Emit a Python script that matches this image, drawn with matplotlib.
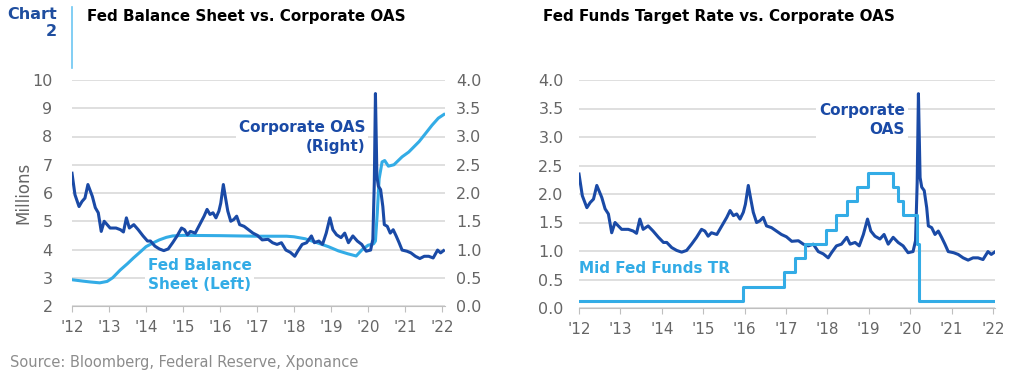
import matplotlib
matplotlib.use("Agg")
import matplotlib.pyplot as plt
import numpy as np

plt.rcParams['font.family'] = ['DejaVu Sans']

DARK = '#1a4aa6'
LIGHT = '#33ace6'
GRID = '#d9d9d9'
TICK = '#666666'

# corporate OAS (%)
oas_year = [2012.0, 2012.08, 2012.19, 2012.27, 2012.35, 2012.43, 2012.55, 2012.63, 2012.71,
            2012.79, 2012.87, 2012.95, 2013.03, 2013.19, 2013.31, 2013.39, 2013.47, 2013.55,
            2013.67, 2013.79, 2013.92, 2014.04, 2014.12, 2014.24, 2014.36, 2014.48, 2014.6,
            2014.72, 2014.84, 2014.96, 2015.04, 2015.12, 2015.2, 2015.33, 2015.45, 2015.57,
            2015.65, 2015.73, 2015.81, 2015.89, 2015.97, 2016.02, 2016.09, 2016.15, 2016.21,
            2016.29, 2016.37, 2016.45, 2016.53, 2016.65, 2016.77, 2016.89, 2017.01, 2017.14,
            2017.3, 2017.42, 2017.54, 2017.66, 2017.78, 2017.9, 2018.02, 2018.1, 2018.22,
            2018.34, 2018.47, 2018.55, 2018.67, 2018.77, 2018.87, 2018.97, 2019.05, 2019.15,
            2019.27, 2019.37, 2019.47, 2019.59, 2019.71, 2019.83, 2019.95, 2020.07, 2020.13,
            2020.17, 2020.2, 2020.24, 2020.28, 2020.34, 2020.4, 2020.44, 2020.52, 2020.6,
            2020.68, 2020.76, 2020.84, 2020.92, 2021.05, 2021.16, 2021.28, 2021.4, 2021.52,
            2021.64, 2021.76, 2021.88, 2021.96, 2022.04]
oas_val = [2.35, 1.97, 1.76, 1.85, 1.91, 2.15, 1.94, 1.74, 1.65,
           1.32, 1.5, 1.44, 1.38, 1.38, 1.35, 1.31, 1.56, 1.38,
           1.44, 1.35, 1.24, 1.15, 1.15, 1.06, 1.01, 0.98, 1.01,
           1.12, 1.24, 1.38, 1.35, 1.26, 1.32, 1.29, 1.44, 1.59,
           1.71, 1.62, 1.65, 1.56, 1.68, 1.82, 2.15, 1.91, 1.68,
           1.5, 1.53, 1.59, 1.44, 1.41, 1.35, 1.29, 1.25, 1.17,
           1.18, 1.12, 1.09, 1.12, 0.99, 0.95, 0.88, 0.97, 1.09,
           1.12, 1.24, 1.12, 1.15, 1.09, 1.29, 1.56, 1.35, 1.26,
           1.21, 1.29, 1.12, 1.24, 1.15, 1.09, 0.97, 0.99, 1.18,
           2.2, 3.76, 2.29, 2.12, 2.06, 1.76, 1.44, 1.41, 1.29,
           1.35, 1.24, 1.12, 0.99, 0.97, 0.94, 0.88, 0.84, 0.88,
           0.88, 0.85, 0.99, 0.94, 0.98]

# Fed balance sheet (left axis)
bs_year = [2012.0, 2012.3, 2012.5, 2012.75, 2012.95, 2013.1, 2013.3, 2013.5, 2013.66, 2013.85,
           2014.0, 2014.2, 2014.36, 2014.55, 2014.72, 2015.0, 2016.0, 2017.0, 2017.8, 2018.0,
           2018.3, 2018.6, 2018.93, 2019.2, 2019.45, 2019.68, 2019.83, 2020.0, 2020.15, 2020.2,
           2020.25, 2020.3, 2020.38, 2020.45, 2020.55, 2020.7, 2020.92, 2021.1, 2021.38, 2021.55,
           2021.73, 2021.9, 2022.05]
bs_val = [2.93, 2.88, 2.85, 2.82, 2.87, 3.0, 3.27, 3.5, 3.7, 3.92,
          4.1, 4.24, 4.34, 4.43, 4.48, 4.5, 4.49, 4.47, 4.47, 4.45,
          4.38, 4.25, 4.1, 3.95, 3.85, 3.77, 3.98, 4.15, 4.2, 4.3,
          5.3, 6.5, 7.1, 7.15, 6.95, 7.0, 7.28, 7.45, 7.82, 8.1,
          8.4, 8.65, 8.78]

# mid fed funds target rate (step changes)
ff_year = [2012.0, 2015.96, 2016.96, 2017.21, 2017.46, 2017.96, 2018.22, 2018.47, 2018.72,
           2018.97, 2019.58, 2019.71, 2019.83, 2020.17, 2020.21, 2022.05]
ff_val = [0.125, 0.375, 0.625, 0.875, 1.125, 1.375, 1.625, 1.875, 2.125,
          2.375, 2.125, 1.875, 1.625, 1.125, 0.125, 0.125]

year_ticks = list(range(2012, 2023))
year_labels = ["'%02d" % (y % 100) for y in year_ticks]

fig = plt.figure(figsize=(10.24, 3.8), dpi=100)

def style_x(ax, ypad):
    ax.set_xticks(year_ticks)
    ax.set_xticklabels(year_labels)
    for s in ['top', 'left', 'right']:
        ax.spines[s].set_visible(False)
    ax.spines['bottom'].set_color('#bfbfbf')
    ax.tick_params(axis='x', colors='#bfbfbf', labelcolor=TICK, labelsize=11, length=4, pad=6)
    ax.tick_params(axis='y', length=0, labelcolor=TICK, labelsize=11.5, pad=ypad)

# left chart
ax1 = fig.add_axes([72/1024, 1-306/380, 373/1024, 226/380])
ax1.plot(bs_year, bs_val, color=LIGHT, lw=2.2, zorder=3)
ax1.set_ylim(2, 10)
ax1.set_xlim(2012, 2022.08)
ax1.set_yticks(range(2, 11))
ax1.grid(axis='y', color=GRID, lw=1.2)
ax1.grid(axis='x', visible=False)
ax1.set_axisbelow(True)
style_x(ax1, 14)
ax1.set_ylabel('Millions', color=TICK, fontsize=12)
ax1.yaxis.set_label_coords(-0.107, 0.5)
ax1.text(2014.05, 3.1, 'Fed Balance\nSheet (Left)', color=LIGHT, fontsize=11, fontweight='bold',
         ha='left', va='center', linespacing=1.3, zorder=2,
         bbox=dict(facecolor='white', edgecolor='none', pad=2))
ax1.text(2019.92, 7.98, 'Corporate OAS\n(Right)', color=DARK, fontsize=11, fontweight='bold',
         ha='right', va='center', linespacing=1.3, zorder=2,
         bbox=dict(facecolor='white', edgecolor='none', pad=2))

ax1b = ax1.twinx()
ax1b.plot(oas_year, oas_val, color=DARK, lw=2.2)
ax1b.set_ylim(0, 4)
ax1b.set_yticks(np.arange(0, 4.01, 0.5))
ax1b.set_yticklabels(['%.1f' % v for v in np.arange(0, 4.01, 0.5)])
for s in ['top', 'left', 'right', 'bottom']:
    ax1b.spines[s].set_visible(False)
ax1b.tick_params(axis='y', length=0, labelcolor=TICK, labelsize=11.5, pad=8)

# right chart
ax2 = fig.add_axes([579/1024, 1-308/380, 416/1024, 228/380])
ax2.plot(oas_year, oas_val, color=DARK, lw=2.2, zorder=3)
ax2.step(ff_year, ff_val, where='post', color=LIGHT, lw=2.2, zorder=3)
ax2.set_ylim(0, 4)
ax2.set_xlim(2012, 2022.05)
ax2.set_yticks(np.arange(0, 4.01, 0.5))
ax2.set_yticklabels(['%.1f' % v for v in np.arange(0, 4.01, 0.5)])
ax2.grid(axis='y', color=GRID, lw=1.2)
ax2.set_axisbelow(True)
style_x(ax2, 11)
ax2.text(2019.87, 3.3, 'Corporate\nOAS', color=DARK, fontsize=11, fontweight='bold',
         ha='right', va='center', linespacing=1.3, zorder=2,
         bbox=dict(facecolor='white', edgecolor='none', pad=2))
ax2.text(2012.0, 0.7, 'Mid Fed Funds TR', color=LIGHT, fontsize=11, fontweight='bold',
         ha='left', va='center', zorder=2,
         bbox=dict(facecolor='white', edgecolor='none', pad=1))

# titles and header
fig.text(87/1024, 1-17/380, 'Fed Balance Sheet vs. Corporate OAS', fontsize=10.9,
         fontweight='bold', color='black', ha='left', va='center')
fig.text(543/1024, 1-17/380, 'Fed Funds Target Rate vs. Corporate OAS', fontsize=10.9,
         fontweight='bold', color='black', ha='left', va='center')
fig.text(57/1024, 1-23/380, 'Chart\n2', fontsize=11.5, fontweight='bold', color='#1f4e9f',
         ha='right', va='center', linespacing=1.2)
fig.add_artist(plt.Line2D([72/1024, 72/1024], [1-7/380, 1-68/380], color='#6cc6f2', lw=1.2))
fig.text(10/1024, 1-362/380, 'Source: Bloomberg, Federal Reserve, Xponance', fontsize=10.5,
         color='#8c8c8c', ha='left', va='center')

fig.savefig('out.png', dpi=100)
